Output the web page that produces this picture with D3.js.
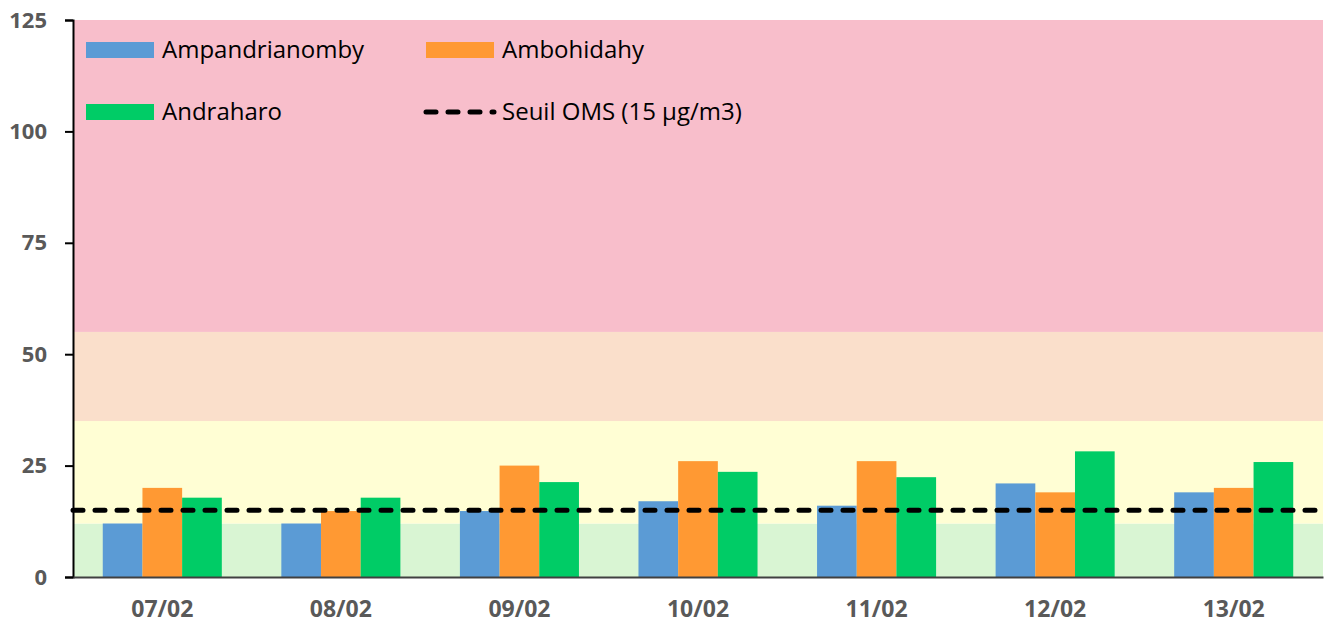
<!DOCTYPE html>
<html>
<head>
<meta charset="utf-8">
<script src="https://cdn.jsdelivr.net/npm/d3@7"></script>
<style>
  body { margin: 0; background: #fff; }
  svg text { font-family: "Open Sans", Lato, sans-serif; }
</style>
</head>
<body>
<svg id="chart" width="1325" height="627"></svg>
<script>
// data
var days = ["07/02", "08/02", "09/02", "10/02", "11/02", "12/02", "13/02"];
var ampandrianomby = [12, 12, 14.8, 17, 16, 21, 19];
var ambohidahy = [20, 14.8, 25, 26, 26, 19, 20];
var andraharo = [17.8, 17.8, 21.3, 23.6, 22.4, 28.2, 25.8];
var seriesNames = ["Ampandrianomby", "Ambohidahy", "Andraharo"];
var seriesColors = ["#5B9BD5", "#FF9933", "#00CC66"];
var seuil = 15;
var seuilLabel = "Seuil OMS (15 µg/m3)";
// fond de qualité d'air (bornes)
var bands = [
  { from: 0, to: 12, color: "#D9F5D3" },
  { from: 12, to: 35, color: "#FFFED4" },
  { from: 35, to: 55, color: "#FADFCB" },
  { from: 55, to: 125, color: "#F8BECB" }
];
var yTicks = [0, 25, 50, 75, 100, 125];

var margin = { top: 20, right: 2, bottom: 50, left: 73 };
var width = 1325 - margin.left - margin.right;
var height = 627 - margin.top - margin.bottom;

var svg = d3.select("#chart")
  .append("g")
  .attr("transform", "translate(" + margin.left + "," + margin.top + ")");

var x0 = d3.scaleBand().domain(days).range([0, width]).padding(0);
var x1 = d3.scaleBand().domain(seriesNames)
  .range([x0.bandwidth() / 6, x0.bandwidth() * 5 / 6]).padding(0);
var y = d3.scaleLinear().domain([0, 125]).range([height, 0]);

// bandes de fond
svg.selectAll(".band")
  .data(bands)
  .enter().append("rect")
  .attr("class", "band")
  .attr("x", 0)
  .attr("width", width)
  .attr("y", function(d) { return y(d.to); })
  .attr("height", function(d) { return y(d.from) - y(d.to); })
  .attr("fill", function(d) { return d.color; });

// barres
var values = [ampandrianomby, ambohidahy, andraharo];
var rows = [];
days.forEach(function(day, i) {
  seriesNames.forEach(function(s, j) {
    rows.push({ day: day, serie: s, value: values[j][i], color: seriesColors[j] });
  });
});

svg.selectAll(".bar")
  .data(rows)
  .enter().append("rect")
  .attr("class", "bar")
  .attr("x", function(d) { return x0(d.day) + x1(d.serie); })
  .attr("width", x1.bandwidth())
  .attr("y", function(d) { return y(d.value); })
  .attr("height", function(d) { return y(0) - y(d.value); })
  .attr("fill", function(d) { return d.color; });

// ligne seuil OMS
svg.append("line")
  .attr("x1", 0)
  .attr("x2", width)
  .attr("y1", y(seuil))
  .attr("y2", y(seuil))
  .attr("stroke", "#000")
  .attr("stroke-width", 5)
  .attr("stroke-linecap", "round")
  .attr("stroke-dasharray", "10,12");

// axes
var yAxis = d3.axisLeft(y).tickValues(yTicks).tickSize(8).tickPadding(18);
var gy = svg.append("g").call(yAxis);
gy.select(".domain").attr("stroke", "#000").attr("stroke-width", 2);
gy.selectAll(".tick line").attr("stroke", "#000").attr("stroke-width", 2);
gy.selectAll("text")
  .attr("fill", "#595959")
  .style("font-size", "22px")
  .style("font-weight", "bold");

var xAxis = d3.axisBottom(x0).tickSize(0).tickPadding(24);
var gx = svg.append("g")
  .attr("transform", "translate(0," + height + ")")
  .call(xAxis);
gx.select(".domain").attr("stroke", "#404040").attr("stroke-width", 2);
gx.selectAll("text")
  .attr("fill", "#595959")
  .style("font-size", "23px")
  .style("font-weight", "bold");

// légende
var legendItems = [
  { label: seriesNames[0], color: seriesColors[0], x: 13, y: 30 },
  { label: seriesNames[1], color: seriesColors[1], x: 353, y: 30 },
  { label: seriesNames[2], color: seriesColors[2], x: 13, y: 92 },
  { label: seuilLabel, color: null, x: 353, y: 92 }
];
var legend = svg.selectAll(".legend")
  .data(legendItems)
  .enter().append("g")
  .attr("class", "legend")
  .attr("transform", function(d) { return "translate(" + d.x + "," + d.y + ")"; });

legend.filter(function(d) { return d.color; })
  .append("rect")
  .attr("x", 0).attr("y", -8)
  .attr("width", 68).attr("height", 16)
  .attr("fill", function(d) { return d.color; });

legend.filter(function(d) { return !d.color; })
  .append("line")
  .attr("x1", 0).attr("x2", 68)
  .attr("y1", 0).attr("y2", 0)
  .attr("stroke", "#000")
  .attr("stroke-width", 5)
  .attr("stroke-linecap", "round")
  .attr("stroke-dasharray", "10,12");

legend.append("text")
  .attr("x", 76)
  .attr("y", 0)
  .attr("dy", "0.35em")
  .attr("fill", "#000")
  .style("font-size", "24px")
  .text(function(d) { return d.label; });
</script>
</body>
</html>
